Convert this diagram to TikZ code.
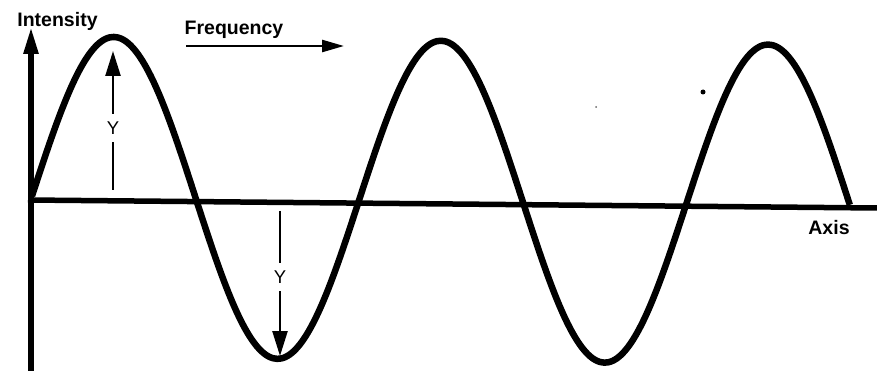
\documentclass[tikz,border=0pt]{standalone}
\usepackage{fontspec}
\setmainfont{Liberation Sans}
\usetikzlibrary{arrows.meta,positioning}
\tikzset{
  axisline/.style={draw=black,line width=5.5pt},
  waveline/.style={draw=black,line width=6.5pt,line join=round},
  yarrow/.style={draw=black,line width=2.4pt,-{Triangle[length=25pt,width=15pt]}},
  lbl/.style={font=\bfseries\fontsize{19.5}{21}\selectfont,inner sep=0pt},
  ylbl/.style={font=\fontsize{18.5}{20}\selectfont,fill=white,inner xsep=1pt,inner ysep=8pt},
}

\begin{document}
\begin{tikzpicture}[x=1pt,y=-1pt]
  \useasboundingbox (0,0) rectangle (877,371);

  % axes
  \coordinate (o) at (31,371);
  \coordinate (top) at (31,27);
  \coordinate (left) at (28,200);
  \coordinate (right) at (877,208);
  \draw[axisline,-{Triangle[length=27pt,width=14pt]}] (o) -- (top);
  \draw[axisline] (left) -- (right);

  % the wave
  \draw[waveline] plot[domain=0:5,samples=201,smooth]
    ({32+163.6*\x},{196+1.9*\x-160*sin(180*\x)});

  % labels
  \node[lbl,anchor=base] (intens) at (57.5,27) {Intensity};
  \node[lbl,anchor=base] (freq) at (234,35) {Frequency};
  \node[lbl,anchor=base] (axislbl) at (829,235) {Axis};

  \coordinate (fstart) at (186,46);
  \coordinate (fend) at (344,46);
  \draw[line width=2.5pt,-{Triangle[length=22pt,width=12pt]}] (fstart) -- (fend);

  % amplitude arrows
  \coordinate (ytail1) at (113,190);
  \coordinate (ytip1) at (113,51);
  \draw[yarrow] (ytail1) -- (ytip1) node[ylbl,pos=0.446] (yup) {Y};
  \coordinate (ytail2) at (280,211);
  \coordinate (ytip2) at (280,356);
  \draw[yarrow] (ytail2) -- (ytip2) node[ylbl,pos=0.455] (ydown) {Y};

  % specks
  \fill (703,92) circle (2.5pt);
  \fill[black!60] (596,107) circle (1pt);
\end{tikzpicture}
\end{document}
